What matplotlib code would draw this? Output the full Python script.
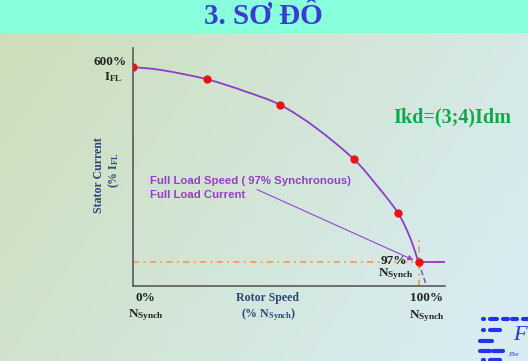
import numpy as np
import matplotlib
matplotlib.use('Agg')
import matplotlib.pyplot as plt
from matplotlib.lines import Line2D
from matplotlib.patches import Rectangle, PathPatch
from matplotlib.path import Path

# ---------------- data ----------------
marker_speed = [0, 25, 50, 75, 90, 97]
marker_current = [600, 569, 503, 364, 226, 100]
curve_speed = [0, 10, 25, 38, 50, 62, 75, 83, 90, 94, 97]
curve_current = [600, 592, 569, 538, 503, 445, 364, 295, 226, 165, 100]
ext_speed = [97, 99.4]
ext_current = [100, 46]
flat_speed = [97, 106]
flat_current = [100, 100]
fl_speed = 97
fl_current = 100

W, H = 528, 361
plt.rcParams['mathtext.fontset'] = 'custom'
plt.rcParams['mathtext.rm'] = 'Liberation Serif:bold'
plt.rcParams['mathtext.bf'] = 'Liberation Serif:bold'
plt.rcParams['mathtext.it'] = 'Liberation Serif:bold:italic'

fig = plt.figure(figsize=(W / 100, H / 100), dpi=100)

def fx(px):
    return px / W

def fy(py):
    return 1 - py / H

def smooth_path(xs, ys):
    """Catmull-Rom curve through the points, drawn as cubic Bezier segments."""
    p = np.column_stack([xs, ys]).astype(float)
    pts = np.vstack([p[0], p, p[-1]])
    verts = [tuple(p[0])]
    codes = [Path.MOVETO]
    for i in range(1, len(pts) - 2):
        p0, p1, p2, p3 = pts[i - 1], pts[i], pts[i + 1], pts[i + 2]
        c1 = p1 + (p2 - p0) / 6
        c2 = p2 - (p3 - p1) / 6
        verts += [tuple(c1), tuple(c2), tuple(p2)]
        codes += [Path.CURVE4] * 3
    return Path(verts, codes)

# background gradient
bg = fig.add_axes([0, 0, 1, 1], zorder=0)
bg.set_axis_off()
gx = np.linspace(0, 1, 200)
gy = np.linspace(0, 1, 140)
GX, GY = np.meshgrid(gx, gy)
t = np.clip(0.75 * GX + 0.35 * GY, 0, 1)
c0 = np.array([204, 222, 184]) / 255
c1 = np.array([216, 236, 242]) / 255
img = c0[None, None, :] * (1 - t[..., None]) + c1[None, None, :] * t[..., None]
bg.imshow(img, extent=[0, 1, 0, 1], aspect='auto', origin='upper')
bg.set_xlim(0, 1)
bg.set_ylim(0, 1)
bg.add_patch(Rectangle((0, fy(33)), 1, 33 / H, color='#88FFDD', zorder=2, lw=0))
bg.text(fx(263), fy(16), '3. SƠ ĐỒ', ha='center', va='center', fontsize=21,
        fontweight='bold', family='Liberation Serif', color='#3B3BCC', zorder=3)

# main axes
ax = fig.add_axes([fx(133), fy(286), fx(445) - fx(133), fy(48) - fy(286)], zorder=1)
ax.patch.set_alpha(0)
ax.set_xlim(0, 106)
ax.set_ylim(38.5, 649)
for s in ['top', 'right']:
    ax.spines[s].set_visible(False)
for s in ['left', 'bottom']:
    ax.spines[s].set_color('#5a5a5a')
    ax.spines[s].set_linewidth(1.2)
ax.set_xticks([])
ax.set_yticks([])

orange = '#F0A460'
dd = (0, (3.2, 2.2, 1, 2.2))
ax.plot([0, 106], [fl_current, fl_current], color=orange, lw=1.4, ls=dd, zorder=2)
ax.plot([fl_speed, fl_speed], [38.5, 161], color=orange, lw=1.4, ls=dd, zorder=2)

purple = '#8A3FC4'
ax.add_patch(PathPatch(smooth_path(curve_speed, curve_current), fill=False,
                       edgecolor=purple, lw=1.3, zorder=3, capstyle='round'))
ax.plot(ext_speed, ext_current, color=purple, lw=1.0, ls=(0, (4, 2)), zorder=3)
ax.plot(flat_speed, flat_current, color=purple, lw=1.3, zorder=3)
ax.plot(marker_speed, marker_current, 'o', color='#EE1111', ms=5, zorder=4)

ax.annotate('', xy=(fl_speed - 1.7, fl_current + 5), xytext=(42.1, 286),
            arrowprops=dict(arrowstyle='-|>', color='#9944CC', lw=0.8,
                            mutation_scale=8, shrinkA=0, shrinkB=0), zorder=3)
ax.text(5.8, 308, 'Full Load Speed ( 97% Synchronous)', ha='left', va='center',
        fontsize=8.2, fontweight='bold', family='Liberation Sans', color='#9440C4')
ax.text(5.8, 272, 'Full Load Current', ha='left', va='center',
        fontsize=8.2, fontweight='bold', family='Liberation Sans', color='#9440C4')

serif = dict(family='Liberation Serif', fontweight='bold')
fig.text(fx(127), fy(62), '600%', ha='right', va='center', fontsize=9.5, color='#222222', **serif)
fig.text(fx(113), fy(77), r'I$_{\mathrm{FL}}$', ha='center', va='center', fontsize=9.5, color='#222222', **serif)

lab = '#2E4776'
fig.text(fx(99), fy(175), 'Stator Current', rotation=90, ha='center', va='center', fontsize=8.6, color=lab, **serif)
fig.text(fx(114), fy(170), r'(% I$_{\mathrm{FL}}$', rotation=90, ha='center', va='center', fontsize=8.6, color=lab, **serif)

fig.text(fx(145), fy(298), '0%', ha='center', va='center', fontsize=9.5, color='#222222', **serif)
fig.text(fx(146), fy(315), r'N$_{\mathrm{Synch}}$', ha='center', va='center', fontsize=9.5, color='#222222', **serif)
fig.text(fx(268), fy(298), 'Rotor Speed', ha='center', va='center', fontsize=8.6, color=lab, **serif)
fig.text(fx(268), fy(315), r'(% N$_{\mathrm{Synch}}$)', ha='center', va='center', fontsize=8.6, color=lab, **serif)
fig.text(fx(427), fy(298), '100%', ha='center', va='center', fontsize=9.5, color='#222222', **serif)
fig.text(fx(427), fy(316), r'N$_{\mathrm{Synch}}$', ha='center', va='center', fontsize=9.5, color='#222222', **serif)
fig.text(fx(407), fy(261), '97%', ha='right', va='center', fontsize=9.5, color='#222222', **serif)
fig.text(fx(396), fy(274), r'N$_{\mathrm{Synch}}$', ha='center', va='center', fontsize=9.5, color='#222222', **serif)

fig.text(fx(393), fy(117), 'Ikd=(3;4)Idm', ha='left', va='center', fontsize=14.5, color='#12A84A', **serif)

# decorative logo (bottom right)
blue = '#2233EE'
segs = [
    (319, [(483, 484), (490, 497), (503, 508), (512, 517), (523, 528)]),
    (330, [(483, 484), (490, 500)]),
    (341, [(480, 492)]),
    (351, [(480, 490), (493, 503)]),
    (360, [(483, 484), (490, 500)]),
]
for py, parts in segs:
    for a, b in parts:
        fig.add_artist(Line2D([fx(a), fx(b)], [fy(py), fy(py)], color=blue, lw=3.0,
                              solid_capstyle='round', transform=fig.transFigure, zorder=5))
fig.text(fx(513), fy(335), 'F', ha='left', va='center', fontsize=16, style='italic',
         family='Liberation Serif', color=blue, zorder=5)
fig.text(fx(508), fy(355), 'Ebe', ha='left', va='center', fontsize=5, style='italic',
         family='Liberation Serif', color=blue, zorder=5)

fig.savefig('out.png', dpi=100)
